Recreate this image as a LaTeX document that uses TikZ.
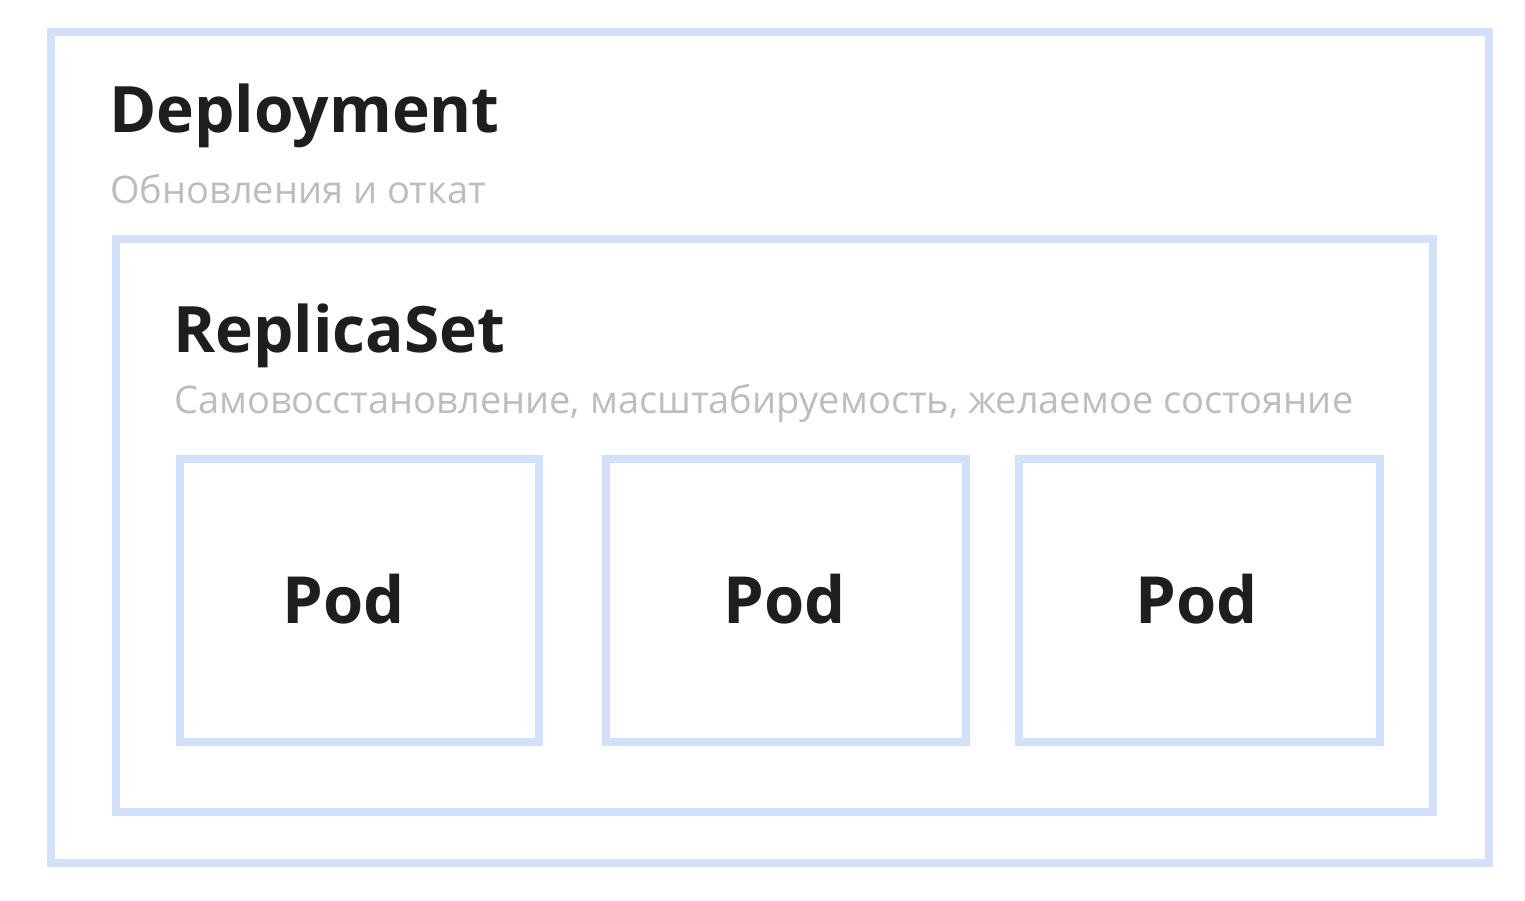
\documentclass[tikz,border=0pt]{standalone}
\usepackage{fontspec}
\setmainfont{Open Sans}
\definecolor{boxblue}{RGB}{210,224,249}
\definecolor{titlec}{RGB}{30,30,30}
\definecolor{subc}{RGB}{189,189,189}
\tikzset{
  frame/.style={draw=boxblue, line width=8pt, fill=none, inner sep=0pt, outer sep=0pt},
  titletxt/.style={inner sep=0pt, text=titlec, font=\fontsize{64}{70}\selectfont\bfseries},
  subtxt/.style={inner sep=0pt, text=subc, font=\fontsize{38}{44}\selectfont},
  podtxt/.style={inner sep=0pt, text=titlec, font=\fontsize{65}{70}\selectfont\bfseries}
}
\begin{document}
\begin{tikzpicture}[x=1pt,y=-1pt]
\useasboundingbox[fill=white] (0,0) rectangle (1525,900);
\node[frame, minimum width=1438pt, minimum height=831pt] (deploy) at (770,447.5) {};
\node[frame, minimum width=1317pt, minimum height=573pt] (rs) at (774.5,525.5) {};
\node[frame, minimum width=359pt, minimum height=282.5pt] (pod1) at (359.5,600.25) {};
\node[frame, minimum width=360pt, minimum height=282.5pt] (pod2) at (785.5,600.25) {};
\node[frame, minimum width=361pt, minimum height=282.5pt] (pod3) at (1199.5,600.25) {};
\node[titletxt, anchor=base west] (dtitle) at (109,132) {Deployment};
\node[subtxt, anchor=base west] (dsub) at (110,203) {Обновления и откат};
\node[titletxt, anchor=base west] (rtitle) at (173,352) {ReplicaSet};
\node[subtxt, anchor=base west] (rsub) at (174,413) {Самовосстановление, масштабируемость, желаемое состояние};
\node[podtxt, anchor=base] (p1) at (343.5,623) {Pod};
\node[podtxt, anchor=base] (p2) at (784.5,623) {Pod};
\node[podtxt, anchor=base] (p3) at (1197,623) {Pod};
\end{tikzpicture}
\end{document}
